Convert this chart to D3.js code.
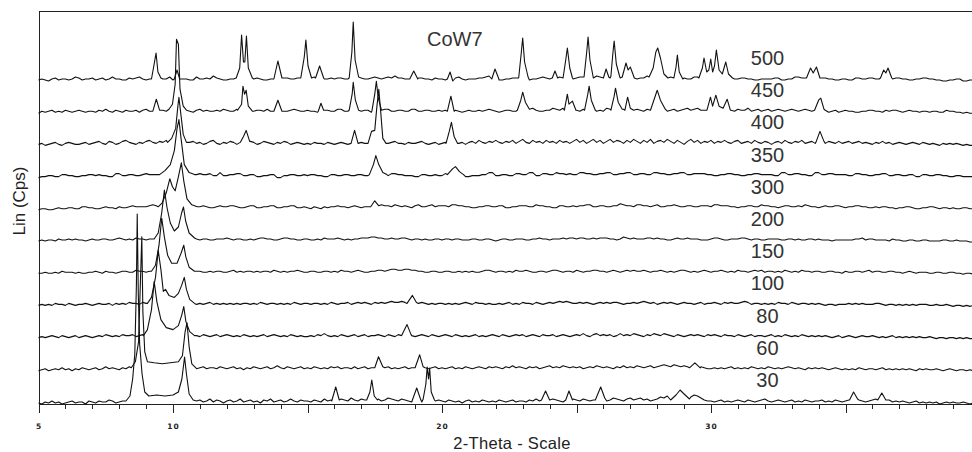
<!DOCTYPE html>
<html>
<head>
<meta charset="utf-8">
<script src="https://cdnjs.cloudflare.com/ajax/libs/d3/7.8.5/d3.min.js"></script>
<style>
    body { margin: 0; background: #fff; }
    #chart-area { width: 972px; height: 452px; overflow: hidden; }
    text { font-family: "Liberation Sans", Arial, sans-serif; }
    .axis path, .axis line { stroke: #222; shape-rendering: crispEdges; }
    .axis text { font-family: "DejaVu Sans", sans-serif; font-weight: bold; font-size: 7.5px; letter-spacing: 1px; fill: #222; }
</style>
</head>
<body>
<div id="chart-area"></div>
<script>

// sample temperatures, bottom to top
const temperatures = [30, 60, 80, 100, 150, 200, 300, 350, 400, 450, 500];

// background counts read every 0.125 deg from 5.000 to 39.875 (one row = 5 deg)
const thetaStart = 5;
const thetaStep = 0.125;

const n30 = [
    1,0,2,1,3,1,2,0, 1,2,3,1,2,2,0,3, 2,1,3,2,2,4,3,1, 2,3,1,3,4,2,3,2, 4,3,2,3,5,2,4,3,
    6,8,9,9,8,6,5,3, 4,2,3,5,2,4,3,1, 3,4,2,3,5,2,3,4, 2,3,1,4,3,5,2,3, 4,2,3,5,3,2,4,3,
    3,2,4,3,2,5,3,4, 2,3,5,4,3,6,4,3, 5,4,6,3,4,5,3,4, 6,5,4,3,5,4,3,2, 4,3,2,3,4,2,3,4,
    3,2,4,3,2,3,1,3, 4,2,3,2,4,3,2,3, 2,4,3,2,3,4,2,3, 3,2,4,3,5,3,2,4, 3,5,4,3,2,4,3,5,
    4,3,5,4,3,4,6,4, 5,3,4,6,5,4,3,5, 6,4,5,6,4,5,3,4, 5,7,6,8,6,5,4,6, 5,6,7,9,8,6,4,3,
    3,2,3,4,2,3,2,3, 4,3,2,4,3,2,3,4, 5,3,2,3,4,3,2,3, 4,2,3,2,4,3,2,3, 3,4,2,3,2,4,3,2,
    3,4,5,3,4,3,2,3, 4,5,3,2,3,4,2,3, 2,3,2,1,2,3,1,2, 1,2,1,2,0,1,2,1, 2,1,1,2,1,0,1,1];
const n60 = [
    1,2,3,1,2,3,2,4, 2,3,1,3,2,4,3,2, 3,4,2,3,5,3,4,3, 2,4,3,5,4,3,4,5, 3,4,5,4,6,4,5,4,
    5,6,4,5,6,4,5,3, 4,5,3,4,4,3,5,4, 3,4,5,3,4,2,4,3, 5,4,3,4,5,3,4,6, 4,3,5,4,3,4,5,3,
    4,3,5,4,3,4,3,5, 4,5,3,4,4,3,5,3, 4,5,3,4,5,4,3,4, 5,3,4,3,4,5,3,4, 4,3,5,4,3,4,5,3,
    4,3,4,5,3,4,3,5, 4,3,4,5,4,3,5,4, 5,4,3,5,4,6,4,5, 4,3,5,4,5,3,4,5, 6,4,5,4,6,5,4,5,
    4,5,3,4,5,4,6,5, 4,5,4,3,5,4,6,4, 5,4,6,5,4,5,6,4, 5,6,7,6,5,7,6,5, 6,5,4,5,4,5,4,3,
    3,4,3,4,3,4,5,3, 4,3,4,3,5,4,3,4, 3,5,4,3,4,3,4,5, 4,3,4,3,2,4,3,4, 3,4,3,2,3,4,3,2,
    3,2,3,2,4,3,2,3, 3,2,3,4,2,3,2,3, 2,3,2,3,2,1,3,2, 3,2,2,3,2,1,2,3, 2,1,2,2,1,2,1,1];
const n80 = [
    2,3,2,3,4,3,2,4, 3,2,3,4,2,3,4,3, 2,3,4,3,5,4,3,4, 3,5,4,4,5,3,4,5, 4,5,4,5,4,5,6,5,
    5,4,6,5,4,5,3,4, 3,5,4,3,4,5,3,4, 5,4,3,4,3,5,4,3, 4,3,4,5,3,4,5,4, 3,4,3,5,4,3,4,3,
    3,4,3,5,4,6,4,3, 4,3,5,4,3,4,5,3, 4,5,3,4,4,5,4,3, 5,4,3,5,4,6,5,4, 3,4,5,4,3,5,4,3,
    4,5,4,3,5,4,3,4, 3,4,5,3,4,3,4,5, 4,3,5,4,3,4,5,4, 5,3,4,5,4,3,5,4, 4,5,3,4,5,4,3,4,
    5,4,6,4,3,5,6,4, 5,4,5,3,4,6,4,5, 4,6,5,4,3,5,4,6, 5,4,6,5,4,3,5,4, 3,4,5,4,5,4,3,5,
    4,5,4,3,5,4,4,3, 5,4,3,4,5,3,4,4, 3,4,5,3,4,3,5,4, 3,4,3,5,4,3,4,3, 4,3,4,3,2,3,4,2,
    3,4,3,2,3,4,3,3, 4,3,2,3,2,3,4,2, 3,2,3,2,3,2,3,2, 2,3,2,1,2,2,1,2, 2,1,2,1,2,1,1,2];
const n100 = [
    2,3,2,3,2,4,3,3, 2,4,3,2,3,3,4,3, 2,3,4,3,3,4,2,4, 3,4,3,5,4,4,3,5, 4,3,5,4,5,4,5,4,
    5,4,5,4,3,4,4,3, 4,3,4,5,3,4,3,4, 3,4,3,4,3,4,4,3, 4,3,5,4,3,4,4,3, 4,3,4,3,5,4,3,4,
    4,3,4,4,3,4,3,5, 4,3,4,4,5,3,4,5, 4,5,4,3,5,4,5,4, 5,6,5,5,6,5,6,5, 5,4,5,4,3,4,3,4,
    4,3,4,3,4,3,4,5, 4,3,5,4,4,3,4,3, 3,4,3,4,5,3,4,3, 5,4,4,3,5,4,3,4, 5,4,5,6,5,6,5,4,
    4,5,4,5,4,3,4,5, 4,5,4,5,5,4,3,4, 4,5,4,5,6,5,4,5, 3,4,5,4,5,4,3,4, 5,4,4,3,4,5,3,4,
    4,5,4,3,5,4,5,4, 4,5,6,5,3,4,4,3, 4,3,4,3,5,4,4,3, 5,4,3,4,4,3,4,3, 4,3,2,3,3,2,3,3,
    3,4,3,4,3,4,3,3, 3,4,4,3,2,3,3,2, 3,2,3,2,3,2,3,3, 3,2,2,3,2,2,3,2, 1,2,2,1,2,1,2,2];
const n150 = [
    2,2,3,2,2,3,2,4, 3,3,3,2,3,2,2,3, 3,4,3,2,4,3,3,2, 3,4,4,3,3,5,4,4, 3,4,4,5,5,4,4,5,
    4,5,5,4,4,3,3,4, 4,3,3,4,3,4,4,3, 3,4,5,3,4,3,4,4, 3,4,3,4,4,3,5,4, 3,4,3,4,4,5,4,3,
    3,4,4,3,3,4,4,3, 4,3,5,4,4,3,4,5, 4,3,3,4,4,5,5,4, 5,6,6,5,5,6,6,5, 5,4,4,3,3,4,4,3,
    3,4,4,3,3,4,3,4, 3,4,3,3,4,5,5,4, 3,4,4,3,4,3,5,4, 4,5,4,3,3,4,4,3, 4,5,5,4,3,4,4,3,
    5,4,3,4,4,5,5,4, 4,3,4,5,4,3,4,5, 4,5,4,4,5,4,3,4, 4,5,4,3,4,3,4,5, 5,4,3,4,3,4,5,4,
    3,4,4,5,4,3,4,3, 5,4,4,3,4,5,4,5, 3,4,4,3,4,3,5,4, 3,4,3,5,4,4,3,4, 4,3,3,4,4,3,3,2,
    4,3,3,4,4,3,4,5, 3,4,4,3,3,4,4,3, 3,2,3,4,3,2,3,3, 3,2,2,3,3,2,2,3, 3,2,2,1,2,2,1,2];
const n200 = [
    2,3,2,3,3,2,4,3, 3,4,3,4,3,3,2,3, 4,3,3,4,4,3,3,4, 5,4,3,4,3,5,4,4, 3,4,4,5,5,4,4,4,
    4,3,3,4,4,5,5,4, 3,4,4,3,3,4,4,4, 5,4,3,4,4,3,3,4, 3,4,5,5,4,4,3,3, 4,5,5,4,4,3,3,4,
    4,3,3,4,3,5,4,4, 4,5,4,3,4,3,4,4, 5,5,5,6,6,5,5,4, 4,5,4,4,5,5,4,3, 4,4,3,4,3,3,4,4,
    3,4,4,3,4,4,3,3, 3,4,4,3,3,4,4,3, 2,3,4,4,3,3,4,4, 4,3,3,4,4,5,4,4, 3,4,4,4,5,4,5,5,
    4,5,5,4,4,5,4,5, 5,5,4,4,3,4,6,5, 4,5,4,4,4,5,5,4, 5,4,4,3,3,4,5,4, 4,5,4,4,4,3,3,3,
    4,5,5,4,3,3,4,4, 4,5,5,4,3,4,4,3, 3,4,4,4,4,3,3,4, 4,3,4,3,3,4,4,3, 4,3,3,3,2,3,3,3,
    3,3,3,4,4,5,3,4, 4,3,3,3,3,2,4,3, 3,2,2,3,3,2,2,3, 3,2,2,2,2,3,3,2, 2,3,2,2,2,1,1,2];
const n300 = [
    1,2,2,1,1,2,3,2, 2,3,3,2,2,4,4,3, 3,2,2,3,4,3,3,2, 4,3,3,4,5,4,4,4, 4,5,6,5,4,4,4,5,
    4,5,5,4,3,4,4,3, 4,5,4,3,3,4,5,4, 4,5,5,4,3,3,4,5, 5,3,3,4,4,5,5,3, 3,4,4,5,5,3,3,4,
    3,2,4,3,2,4,3,4, 4,5,4,4,3,4,5,4, 3,4,4,5,5,4,6,5, 5,4,6,5,4,5,4,3, 5,6,4,4,5,6,4,5,
    5,5,4,6,6,5,5,4, 4,3,3,4,4,5,5,4, 4,5,5,3,3,4,4,5, 5,5,4,4,6,5,5,4, 4,3,3,5,5,4,4,5,
    4,5,5,6,6,4,4,5, 5,4,4,5,5,7,6,5, 5,4,6,6,5,5,4,5, 6,4,4,5,5,6,5,4, 4,5,5,4,4,5,5,5,
    4,6,6,5,5,5,4,4, 3,4,4,5,5,4,4,6, 5,5,4,4,3,4,5,5, 4,4,5,4,6,5,4,4, 3,4,5,4,4,5,5,4,
    3,4,4,5,5,4,4,3, 3,4,3,4,4,3,3,2, 3,3,4,4,3,2,2,3, 3,4,4,3,2,3,3,2, 3,2,2,3,3,2,2,2];
const n350 = [
    1,2,2,3,3,2,2,4, 4,3,3,2,2,3,3,4, 4,3,4,3,3,2,2,5, 5,3,3,4,4,3,3,4, 5,4,4,4,3,5,5,4,
    5,4,4,3,3,5,5,4, 5,4,4,5,3,3,6,3, 3,4,4,5,5,3,3,4, 4,2,2,3,3,4,4,1, 1,3,3,4,4,3,3,4,
    3,4,4,3,3,2,2,4, 4,3,3,4,4,3,3,4, 4,3,3,4,4,3,3,3, 3,5,5,4,4,3,3,3, 2,2,4,4,3,3,4,3,
    3,5,5,4,4,3,3,2, 2,3,3,3,4,4,6,6, 3,3,4,4,3,3,5,5, 4,4,6,6,3,3,5,5, 4,4,6,5,5,4,5,4,
    4,6,6,5,5,4,4,5, 5,6,6,4,4,5,5,6, 6,4,4,5,5,4,4,6, 6,5,5,4,4,5,5,6, 6,4,4,5,5,5,5,4,
    4,3,3,4,4,5,5,4, 4,3,3,4,4,5,5,4, 4,4,4,3,3,6,6,4, 4,5,5,4,4,3,3,6, 6,4,4,5,5,4,4,4,
    4,3,3,5,5,4,4,3, 3,4,4,5,5,3,3,4, 4,3,3,4,4,2,2,4, 4,3,3,4,4,3,3,2, 2,3,3,2,2,2,2,2];
const n400 = [
    2,3,1,2,3,4,2,1, 3,4,3,2,2,3,4,2, 3,4,5,3,2,5,4,2, 3,5,6,4,3,2,4,3, 5,6,4,3,5,4,6,5,
    5,6,5,4,3,4,5,3, 4,2,3,5,6,3,2,4, 3,5,4,2,3,4,3,5, 4,2,3,5,4,3,2,4, 3,5,4,2,3,4,3,2,
    3,2,4,3,3,2,4,3, 2,3,4,3,2,4,3,3, 4,3,2,3,4,5,3,2, 3,4,5,3,3,2,4,3, 3,4,5,3,2,3,4,2,
    3,4,2,4,5,3,4,2, 4,5,3,6,4,3,5,4, 6,4,3,5,4,6,3,5, 7,4,3,6,4,5,3,6, 4,5,3,6,4,5,3,5,
    7,4,6,3,5,7,4,6, 3,5,7,4,6,5,3,6, 4,7,5,3,6,4,7,3, 5,6,4,7,5,3,6,4, 2,5,7,4,6,3,5,4,
    6,3,5,4,6,4,3,5, 6,3,4,5,3,6,4,3, 5,4,2,4,5,3,6,4, 3,5,4,6,3,4,5,3, 4,6,3,5,4,3,5,3,
    4,5,3,4,5,3,4,3, 2,4,3,5,3,4,2,3, 4,3,2,3,4,3,2,4, 3,2,3,2,1,3,2,3, 2,3,2,1,2,1,1,0];
const n450 = [
    1,3,2,3,4,2,3,2, 4,3,2,3,4,3,2,3, 3,2,4,3,5,3,2,4, 3,2,4,3,3,4,2,4, 5,3,4,2,5,4,3,4,
    5,4,3,4,4,3,2,4, 5,3,4,3,3,4,3,5, 4,3,3,5,4,2,3,4, 3,4,4,3,5,3,4,2, 4,3,3,4,5,4,3,3,
    4,3,3,2,2,4,4,3, 3,5,5,3,3,4,4,3, 3,4,4,2,2,3,3,5, 5,3,3,4,4,3,3,5, 5,3,3,4,4,3,3,4,
    3,4,4,3,4,3,2,3, 4,3,3,4,3,4,5,4, 3,2,3,4,4,3,3,4, 3,5,4,6,4,3,3,4, 4,6,5,4,6,5,4,3,
    4,3,5,3,4,5,3,4, 3,6,5,4,4,3,5,3, 5,4,5,4,3,5,4,3, 4,5,4,3,4,5,3,4, 5,6,4,5,6,4,4,3,
    5,4,6,4,3,5,4,3, 5,4,4,6,3,4,5,3, 4,5,3,4,5,4,3,4, 5,4,3,4,5,4,3,5, 4,3,4,2,3,4,2,3,
    4,3,3,2,2,3,3,4, 4,3,3,2,4,3,4,4, 3,2,3,4,3,3,2,3, 3,2,3,3,2,2,4,3, 3,2,2,1,2,1,1,2];
const n500 = [
    2,3,2,1,3,4,2,3, 3,2,3,5,4,2,3,3, 4,2,3,4,2,3,5,3, 3,2,2,4,3,4,5,3, 2,3,4,3,4,3,3,5,
    2,3,4,3,3,2,2,5, 3,3,4,3,6,4,3,2, 2,3,3,4,4,3,3,5, 3,4,3,2,2,3,4,3, 3,4,4,3,3,4,3,4,
    3,4,5,3,2,3,3,4, 3,4,4,3,3,2,2,4, 4,3,3,4,5,4,3,4, 5,4,6,4,4,3,3,2, 2,4,4,3,3,2,4,3,
    3,2,2,4,4,5,3,2, 3,3,3,4,4,5,6,3, 3,2,2,3,3,4,4,3, 4,2,2,3,3,4,5,4, 3,4,6,5,6,4,4,3,
    4,5,5,3,3,4,6,5, 5,4,4,6,5,4,6,5, 5,3,3,4,4,6,6,4, 4,3,3,5,5,3,3,4, 4,3,3,5,5,4,4,3,
    4,3,3,5,5,6,6,3, 3,4,4,3,3,2,2,3, 3,3,3,4,4,2,2,3, 3,5,5,4,4,6,6,3, 3,4,4,3,3,2,2,3,
    3,2,2,4,4,3,3,4, 4,3,3,5,5,3,3,4, 4,3,3,2,2,3,3,4, 4,3,3,2,2,1,1,2, 2,3,3,1,1,2,2,2];

// reflections: each group is a list of [2-theta, counts]
const p30 = [
    [[8.25,3],[8.4,8],[8.5,25],[8.58,50],[8.64,120],[8.67,190],[8.71,110],[8.76,60],[8.85,30],[8.95,12],[9.1,8],[9.4,9],[9.7,8],[10.0,9],[10.2,12],[10.33,25],[10.43,47],[10.5,30],[10.6,10],[10.75,4]],
    [[15.9,3],[16.05,17],[16.18,4]],
    [[17.2,4],[17.32,12],[17.39,24],[17.48,8],[17.6,4]],
    [[18.9,4],[19.06,16],[19.2,5]],
    [[19.3,5],[19.4,20],[19.45,37],[19.5,25],[19.54,36],[19.6,12],[19.72,4]],
    [[23.7,4],[23.85,13],[24.0,4]],
    [[24.6,4],[24.72,13],[24.85,4]],
    [[25.7,4],[25.9,17],[26.05,6]],
    [[28.5,4],[28.7,9],[28.85,14],[29.0,10],[29.2,5]],
    [[35.15,4],[35.3,12],[35.45,5]],
    [[36.2,4],[36.35,11],[36.5,4]]
];
const p60 = [
    [[8.45,4],[8.6,10],[8.72,30],[8.8,100],[8.84,135],[8.88,60],[8.95,20],[9.05,10],[9.3,9],[9.6,8],[9.9,9],[10.2,10],[10.35,16],[10.45,40],[10.52,49],[10.6,25],[10.7,8],[10.85,4]],
    [[17.5,4],[17.64,15],[17.8,5]],
    [[19.0,4],[19.17,17],[19.3,5]],
    [[29.2,4],[29.4,9],[29.6,4]]
];
const p80 = [
    [[8.9,4],[9.05,10],[9.2,30],[9.3,58],[9.4,38],[9.55,20],[9.75,12],[10.0,10],[10.2,14],[10.32,24],[10.4,33],[10.48,18],[10.62,8],[10.8,4]],
    [[18.5,4],[18.7,15],[18.85,5]]
];
const p100 = [
    [[9.05,4],[9.2,10],[9.35,30],[9.45,57],[9.55,38],[9.64,16],[9.72,18],[9.85,12],[10.05,10],[10.2,14],[10.32,22],[10.42,30],[10.5,18],[10.62,8],[10.8,4]],
    [[18.7,4],[18.9,12],[19.05,5]]
];
const p150 = [
    [[9.2,4],[9.35,10],[9.48,30],[9.58,57],[9.68,38],[9.8,20],[9.95,12],[10.15,12],[10.3,22],[10.4,30],[10.48,18],[10.6,8],[10.8,4]]
];
const p200 = [
    [[9.3,4],[9.45,10],[9.58,30],[9.68,53],[9.78,35],[9.9,20],[10.05,12],[10.2,16],[10.32,30],[10.39,36],[10.47,22],[10.6,10],[10.8,5]]
];
const p300 = [
    [[9.45,4],[9.6,8],[9.75,18],[9.88,32],[9.98,24],[10.08,20],[10.2,34],[10.31,48],[10.4,30],[10.52,12],[10.7,6],[10.9,4]],
    [[17.35,4],[17.5,10],[17.65,5]]
];
const p350 = [
    [[9.5,4],[9.7,8],[9.9,14],[10.05,28],[10.15,50],[10.22,59],[10.3,40],[10.42,14],[10.6,6],[10.8,4]],
    [[17.3,4],[17.45,14],[17.54,23],[17.65,14],[17.8,6],[17.95,4]],
    [[20.2,4],[20.4,10],[20.5,12],[20.65,7],[20.8,4]]
];
const p400 = [
    [[9.8,4],[9.95,8],[10.1,18],[10.18,40],[10.22,49],[10.28,35],[10.38,12],[10.5,4]],
    [[12.5,4],[12.62,10],[12.72,16],[12.85,5]],
    [[16.62,3],[16.75,16],[16.88,3]],
    [[17.25,3],[17.38,15],[17.5,16],[17.58,40],[17.65,57],[17.72,35],[17.8,8],[17.92,3]],
    [[20.15,3],[20.27,15],[20.35,24],[20.45,10],[20.58,3]],
    [[33.9,4],[34.05,15],[34.2,5]]
];
const p450 = [
    [[9.25,3],[9.38,15],[9.5,4]],
    [[9.85,5],[9.98,10],[10.08,30],[10.13,75],[10.2,70],[10.26,25],[10.38,8],[10.5,4]],
    [[12.4,4],[12.55,10],[12.6,28],[12.66,20],[12.72,24],[12.8,8],[12.95,3]],
    [[13.75,3],[13.9,14],[14.05,3]],
    [[15.4,3],[15.5,11],[15.6,4]],
    [[16.55,4],[16.66,20],[16.7,32],[16.78,14],[16.9,4]],
    [[17.4,4],[17.5,20],[17.56,33],[17.63,16],[17.75,4]],
    [[20.2,3],[20.33,18],[20.45,3]],
    [[22.8,4],[22.93,14],[23.0,22],[23.1,12],[23.25,5]],
    [[24.55,4],[24.66,20],[24.72,10],[24.85,13],[24.98,4]],
    [[25.3,4],[25.42,20],[25.47,28],[25.55,14],[25.7,4]],
    [[26.28,4],[26.4,18],[26.45,26],[26.55,12],[26.7,5]],
    [[26.8,4],[26.9,17],[27.0,6]],
    [[27.75,4],[27.9,16],[28.0,24],[28.12,14],[28.3,5]],
    [[29.85,4],[29.98,17],[30.06,8],[30.18,19],[30.3,8],[30.45,6],[30.6,15],[30.72,4]],
    [[33.85,4],[34.0,14],[34.08,16],[34.2,5]]
];
const p500 = [
    [[9.2,3],[9.3,18],[9.37,29],[9.44,10],[9.55,4]],
    [[10.05,3],[10.15,12],[10.25,3]],
    [[12.35,4],[12.48,14],[12.55,47],[12.62,20],[12.67,20],[12.73,46],[12.8,14],[12.95,4]],
    [[13.75,3],[13.9,21],[14.05,4]],
    [[14.75,4],[14.88,25],[14.94,42],[15.02,16],[15.15,4]],
    [[15.3,4],[15.45,16],[15.6,4]],
    [[16.55,4],[16.65,30],[16.7,60],[16.77,22],[16.9,5]],
    [[18.8,3],[18.95,11],[19.1,3]],
    [[20.2,3],[20.3,10],[20.4,1]],
    [[21.85,3],[21.97,13],[22.1,4]],
    [[22.85,4],[22.95,30],[23.0,44],[23.07,20],[23.2,5]],
    [[24.1,4],[24.2,11],[24.3,4]],
    [[24.5,4],[24.6,22],[24.66,34],[24.75,14],[24.85,4]],
    [[25.28,5],[25.38,30],[25.43,45],[25.5,22],[25.62,5]],
    [[26.0,4],[26.1,13],[26.2,5]],
    [[26.28,6],[26.35,28],[26.4,41],[26.48,18],[26.6,6]],
    [[26.7,5],[26.84,19],[26.92,12],[27.0,15],[27.15,4]],
    [[27.7,5],[27.85,14],[27.95,30],[28.02,34],[28.12,24],[28.25,8],[28.4,4]],
    [[28.62,4],[28.7,15],[28.75,27],[28.82,10],[28.95,3]],
    [[29.55,4],[29.68,14],[29.74,24],[29.84,10],[29.92,12],[29.99,23],[30.06,10],[30.13,16],[30.2,32],[30.3,12],[30.42,8],[30.55,20],[30.65,8],[30.8,4]],
    [[33.55,4],[33.7,14],[33.8,9],[33.92,15],[34.05,4]],
    [[36.3,4],[36.42,12],[36.5,9],[36.58,14],[36.72,4]]
];

// x axis
const xTicksMajor = [5, 10, 15, 20, 25, 30, 35];
const xTickLabels = [5, 10, 20, 30];

const backgrounds = [n30, n60, n80, n100, n150, n200, n300, n350, n400, n450, n500];
const reflections = [p30, p60, p80, p100, p150, p200, p300, p350, p400, p450, p500];


class XrdStack {

    constructor(parentElement, temps, backgrounds, reflections) {
        this.parentElement = parentElement;
        this.temps = temps;
        this.backgrounds = backgrounds;
        this.reflections = reflections;

        this.initVis();
    }

    /*
     * Static content: svg, scales, frame and axis titles
     */
    initVis() {
        let vis = this;

        vis.margin = {top: 11, right: 0, bottom: 48, left: 38.5};
        vis.width = 972 - vis.margin.left - vis.margin.right;
        vis.height = 452 - vis.margin.top - vis.margin.bottom;

        vis.svg = d3.select("#" + vis.parentElement).append("svg")
            .attr("width", 972)
            .attr("height", 452);

        vis.g = vis.svg.append("g")
            .attr("transform", "translate(" + vis.margin.left + "," + vis.margin.top + ")");

        // 26.9 px per degree, the scale runs past the right edge of the window
        vis.x = d3.scaleLinear().domain([5, 40]).range([0, 35 * 26.9]);
        vis.y = d3.scaleLinear().domain([0, 393]).range([vis.height, 0]);

        vis.stackStep = 32.2;   // vertical offset between patterns, in counts
        vis.baseLevel = 3;

        // minor ticks every degree
        vis.g.append("g")
            .attr("class", "axis")
            .attr("transform", "translate(0," + vis.height + ")")
            .call(d3.axisBottom(vis.x).tickValues(d3.range(6, 40, 1)).tickSize(5).tickSizeOuter(0).tickFormat(""));

        // major ticks every 5 degrees
        vis.g.append("g")
            .attr("class", "axis")
            .attr("transform", "translate(0," + vis.height + ")")
            .call(d3.axisBottom(vis.x).tickValues(xTicksMajor).tickSize(9).tickSizeOuter(0).tickPadding(11)
                .tickFormat(d => xTickLabels.includes(d) ? d : ""));

        // left axis and top frame line
        vis.g.append("g")
            .attr("class", "axis")
            .call(d3.axisLeft(vis.y).tickValues([]).tickSizeOuter(0));

        vis.g.append("line")
            .attr("x1", 0).attr("x2", vis.width)
            .attr("y1", 0.5).attr("y2", 0.5)
            .attr("stroke", "#222")
            .attr("shape-rendering", "crispEdges");

        vis.svg.append("text")
            .attr("transform", "translate(25,201) rotate(-90)")
            .attr("text-anchor", "middle")
            .style("font-size", "17px")
            .style("fill", "#222")
            .text("Lin (Cps)");

        vis.svg.append("text")
            .attr("x", 512).attr("y", 449)
            .attr("text-anchor", "middle")
            .style("font-size", "16.5px")
            .style("letter-spacing", "0.3px")
            .style("fill", "#222")
            .text("2-Theta - Scale");

        vis.svg.append("text")
            .attr("x", 427).attr("y", 46)
            .style("font-size", "20px")
            .style("fill", "#333")
            .text("CoW7");

        this.wrangleData();
    }

    /*
     * Merge the background grid with the peak points of each pattern
     */
    wrangleData() {
        let vis = this;

        vis.displayData = vis.temps.map((t, i) => {
            let groups = vis.reflections[i];
            let grid = vis.backgrounds[i]
                .map((v, k) => [thetaStart + k * thetaStep, v])
                .filter(p => !groups.some(g => p[0] >= g[0][0] && p[0] <= g[g.length - 1][0]));
            let points = grid.concat(...groups).sort((a, b) => a[0] - b[0]);
            return {temp: t, offset: i * vis.stackStep, points: points};
        });

        this.updateVis();
    }

    updateVis() {
        let vis = this;

        let line = d3.line()
            .x(d => vis.x(d[0]))
            .y(d => vis.y(d[1]));

        vis.g.selectAll(".pattern")
            .data(vis.displayData)
            .join("path")
            .attr("class", "pattern")
            .attr("fill", "none")
            .attr("stroke", "#111")
            .attr("stroke-width", 1.1)
            .attr("stroke-linejoin", "round")
            .attr("d", d => line(d.points.map(p => [p[0], p[1] + d.offset])));

        // temperature labels sit above each trace
        vis.g.selectAll(".temp-label")
            .data(vis.displayData)
            .join("text")
            .attr("class", "temp-label")
            .attr("x", vis.x(32.1))
            .attr("y", d => vis.y(d.offset + vis.baseLevel) - 14)
            .attr("text-anchor", "middle")
            .style("font-size", "20px")
            .style("fill", "#333")
            .text(d => d.temp);
    }
}

let xrdChart = new XrdStack("chart-area", temperatures, backgrounds, reflections);

</script>
</body>
</html>
